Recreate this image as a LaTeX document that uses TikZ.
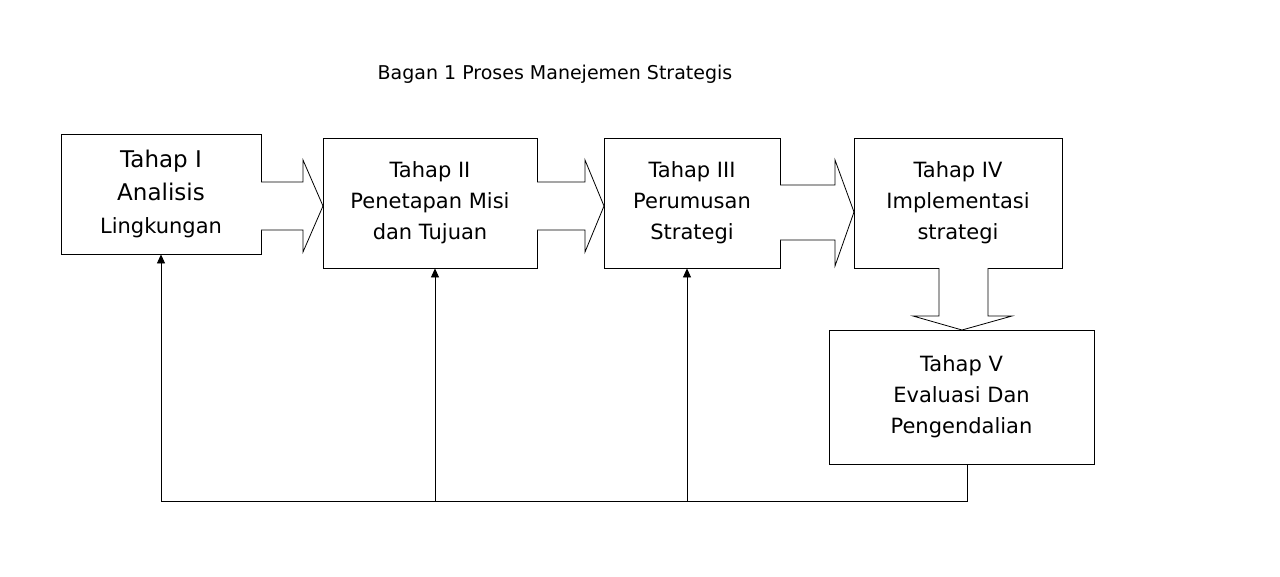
\documentclass[tikz,border=0pt]{standalone}
\usepackage{fontspec}
\setmainfont{DejaVu Sans}
\usetikzlibrary{arrows.meta,positioning}
\tikzstyle{tahap} = [rectangle, draw, thick, align=center, inner sep=0pt, font=\fontsize{21}{31}\selectfont]
\tikzstyle{blok} = [draw, thick, fill=white]
\tikzstyle{balik} = [thick, -{Triangle[length=9pt,width=8pt]}]
\begin{document}
\begin{tikzpicture}[x=1pt, y=-1pt]
\useasboundingbox (0,0) rectangle (1280,576);
% Judul
\node (judul) at (555,74) {\fontsize{19}{22}\selectfont Bagan 1 Proses Manejemen Strategis};

% Tahap
\node (t1) [tahap, minimum width=200pt, minimum height=120pt, font=\fontsize{23}{33}\selectfont] at (161,194) {Tahap I\\Analisis\\\fontsize{21}{31}\selectfont Lingkungan};
\node (t2) [tahap, minimum width=214pt, minimum height=130pt] at (430,203) {Tahap II\\Penetapan Misi\\dan Tujuan};
\node (t3) [tahap, minimum width=176pt, minimum height=130pt] at (692,203) {Tahap III\\Perumusan\\Strategi};
\node (t4) [tahap, minimum width=208pt, minimum height=130pt] at (958,203) {Tahap IV\\Implementasi\\strategi};
\node (t5) [tahap, minimum width=265pt, minimum height=134pt] at (961.5,397) {Tahap V\\Evaluasi Dan\\Pengendalian};

% Panah blok
\draw[blok] (261,182) -- (303,182) -- (303,160) -- (323,206) -- (303,252) -- (303,230) -- (261,230);
\draw[blok] (537,182) -- (585,182) -- (585,160) -- (604,206) -- (585,252) -- (585,230) -- (537,230);
\draw[blok] (780,185) -- (835,185) -- (835,160) -- (854,212) -- (835,266) -- (835,240) -- (780,240);
\draw[blok] (939,268) -- (939,316) -- (913,316) -- (962,330) -- (1012,316) -- (988,316) -- (988,268);

% Umpan balik
\coordinate (b5) at (967,501);
\coordinate (b1) at (161,501);
\coordinate (b2) at (435,501);
\coordinate (b3) at (687,501);
\draw[thick] (t5.south -| b5) -- (b5) -- (b1);
\draw[balik] (b1) -- (t1.south -| b1);
\draw[balik] (b2) -- (t2.south -| b2);
\draw[balik] (b3) -- (t3.south -| b3);
\end{tikzpicture}
\end{document}
